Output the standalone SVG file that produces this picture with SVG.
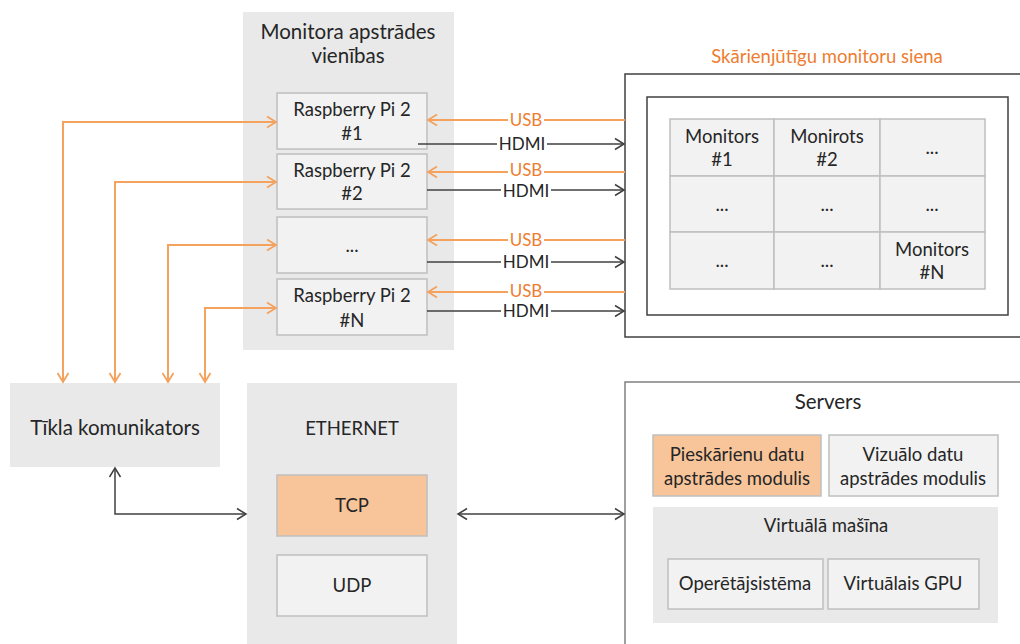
<svg xmlns="http://www.w3.org/2000/svg" width="1020" height="644" viewBox="0 0 1020 644">
<defs>
<style>
text{font-family:Lato,"Open Sans","Liberation Sans",sans-serif;font-size:18.5px;fill:#262626;text-anchor:middle}
.big{font-size:20.5px}
.grp{fill:#E9E9E9}
.box{fill:#F2F2F2;stroke:#BFBFBF;stroke-width:1.5}
.hot{fill:#F8C49A;stroke:#BFBFBF;stroke-width:1.5}
.or{stroke:#F4A25E;stroke-width:2;fill:none}
.bk{stroke:#404040;stroke-width:1.5;fill:none}
.lbl{font-size:17px}
.olbl{font-size:17px;fill:#ED7D31}
</style>
<marker id="ao" viewBox="-11 -7 13 14" markerWidth="13" markerHeight="14" refX="0" refY="0" orient="auto-start-reverse" markerUnits="userSpaceOnUse">
<path d="M-9,-5.5 L0,0 L-9,5.5" fill="none" stroke="#F4A25E" stroke-width="1.8"/>
</marker>
<marker id="ab" viewBox="-11 -7 13 14" markerWidth="13" markerHeight="14" refX="0" refY="0" orient="auto-start-reverse" markerUnits="userSpaceOnUse">
<path d="M-9,-5.5 L0,0 L-9,5.5" fill="none" stroke="#404040" stroke-width="1.5"/>
</marker>
</defs>
<rect width="1020" height="644" fill="#FFFFFF"/>

<g id="monitor-units">
<rect class="grp" x="243" y="12" width="211" height="338"/>
<text class="big" x="348" y="39">Monitora apstrādes</text>
<text class="big" x="348" y="63">vienības</text>
</g>
<g id="rpi1"><rect class="box" x="277" y="93" width="150" height="56"/><text x="352" y="116">Raspberry Pi 2</text><text x="352" y="140">#1</text></g>
<g id="rpi2"><rect class="box" x="277" y="154" width="150" height="55"/><text x="352" y="177">Raspberry Pi 2</text><text x="352" y="200">#2</text></g>
<g id="rpi3"><rect class="box" x="277" y="217" width="150" height="56"/><text x="352" y="252">...</text></g>
<g id="rpiN"><rect class="box" x="277" y="279" width="150" height="56"/><text x="352" y="302">Raspberry Pi 2</text><text x="352" y="327">#N</text></g>

<g id="wall">
<text x="827" y="63" style="fill:#ED7D31">Skārienjūtīgu monitoru siena</text>
<rect x="625" y="74" width="400" height="263" fill="#FFFFFF" stroke="#404040" stroke-width="1.5"/>
<rect x="647" y="97" width="361" height="218" fill="#FFFFFF" stroke="#404040" stroke-width="1.5"/>
</g>
<g id="monitor-grid">
<rect class="box" x="670" y="119" width="104" height="57"/>
<rect class="box" x="774" y="119" width="106" height="57"/>
<rect class="box" x="880" y="119" width="105" height="57"/>
<rect class="box" x="670" y="176" width="104" height="56"/>
<rect class="box" x="774" y="176" width="106" height="56"/>
<rect class="box" x="880" y="176" width="105" height="56"/>
<rect class="box" x="670" y="232" width="104" height="57"/>
<rect class="box" x="774" y="232" width="106" height="57"/>
<rect class="box" x="880" y="232" width="105" height="57"/>
<text x="722" y="143">Monitors</text><text x="722" y="166">#1</text>
<text x="827" y="143">Monirots</text><text x="827" y="166">#2</text>
<text x="932" y="154">...</text>
<text x="722" y="211">...</text><text x="827" y="211">...</text><text x="932" y="211">...</text>
<text x="722" y="267">...</text><text x="827" y="267">...</text>
<text x="932" y="256">Monitors</text><text x="932" y="279">#N</text>
</g>

<g id="network-communicator">
<rect class="grp" x="10" y="383" width="210" height="84"/>
<text class="big" x="115" y="435">Tīkla komunikators</text>
</g>
<g id="ethernet">
<rect class="grp" x="247" y="383" width="210" height="270"/>
<text x="352" y="435">ETHERNET</text>
</g>
<g id="tcp"><rect class="hot" x="277" y="475" width="150" height="61"/><text x="352" y="512">TCP</text></g>
<g id="udp"><rect class="box" x="277" y="555" width="150" height="61"/><text x="352" y="592">UDP</text></g>

<g id="servers">
<rect x="625" y="382" width="410" height="280" fill="#FFFFFF" stroke="#808080" stroke-width="1.5"/>
<text class="big" x="828" y="409">Servers</text>
</g>
<g id="touch-module"><rect class="hot" x="653" y="435" width="168" height="61"/><text x="737" y="461">Pieskārienu datu</text><text x="737" y="485">apstrādes modulis</text></g>
<g id="visual-module"><rect class="box" x="829" y="435" width="169" height="61"/><text x="913" y="461">Vizuālo datu</text><text x="913" y="485">apstrādes modulis</text></g>
<g id="vm">
<rect class="grp" x="653" y="507" width="345" height="116"/>
<text x="826" y="532">Virtuālā mašīna</text>
</g>
<g id="os"><rect class="box" x="668" y="559" width="155" height="50"/><text x="745" y="590">Operētājsistēma</text></g>
<g id="vgpu"><rect class="box" x="828" y="559" width="151" height="50"/><text x="903" y="590">Virtuālais GPU</text></g>

<g id="connectors">
<path class="or" d="M63,382 V122 H276" marker-start="url(#ao)" marker-end="url(#ao)"/>
<path class="or" d="M115,382 V182 H276" marker-start="url(#ao)" marker-end="url(#ao)"/>
<path class="or" d="M168,382 V245 H276" marker-start="url(#ao)" marker-end="url(#ao)"/>
<path class="or" d="M205,382 V308 H276" marker-start="url(#ao)" marker-end="url(#ao)"/>
<path class="or" d="M625,120 H428" marker-end="url(#ao)"/>
<path class="or" d="M625,172 H428" marker-end="url(#ao)"/>
<path class="or" d="M625,240 H428" marker-end="url(#ao)"/>
<path class="or" d="M625,292 H428" marker-end="url(#ao)"/>
<path class="bk" d="M418,144 H624" marker-end="url(#ab)"/>
<path class="bk" d="M427,190 H624" marker-end="url(#ab)"/>
<path class="bk" d="M427,262 H624" marker-end="url(#ab)"/>
<path class="bk" d="M427,311 H624" marker-end="url(#ab)"/>
<path class="bk" d="M115,468 V514 H246" marker-start="url(#ab)" marker-end="url(#ab)"/>
<path class="bk" d="M458,514 H624" marker-start="url(#ab)" marker-end="url(#ab)"/>
<g>
<rect x="508" y="113" width="36" height="14" fill="#FFFFFF"/><text class="olbl" x="526" y="126">USB</text>
<rect x="497" y="137" width="50" height="14" fill="#FFFFFF"/><text class="lbl" x="522" y="150">HDMI</text>
<rect x="508" y="164" width="36" height="14" fill="#FFFFFF"/><text class="olbl" x="526" y="176">USB</text>
<rect x="501" y="184" width="50" height="14" fill="#FFFFFF"/><text class="lbl" x="526" y="197">HDMI</text>
<rect x="508" y="233" width="36" height="14" fill="#FFFFFF"/><text class="olbl" x="526" y="246">USB</text>
<rect x="501" y="255" width="50" height="14" fill="#FFFFFF"/><text class="lbl" x="526" y="268">HDMI</text>
<rect x="508" y="285" width="36" height="14" fill="#FFFFFF"/><text class="olbl" x="526" y="297">USB</text>
<rect x="501" y="304" width="50" height="14" fill="#FFFFFF"/><text class="lbl" x="526" y="317">HDMI</text>
</g>
</g>
</svg>
